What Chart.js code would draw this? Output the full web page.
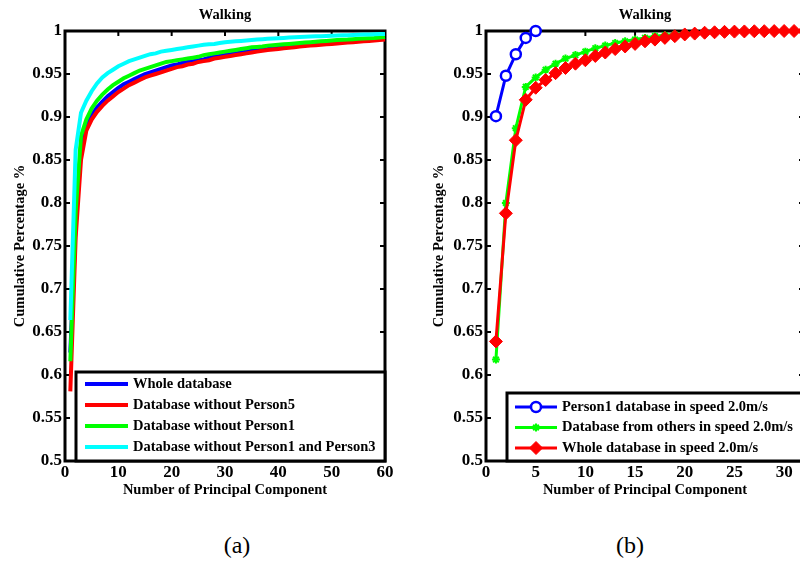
<!DOCTYPE html>
<html>
<head>
<meta charset="utf-8">
<script src="https://cdn.jsdelivr.net/npm/chart.js"></script>
<style>
  body { margin: 0; background: #fff; }
  #page { position: relative; width: 800px; height: 574px; overflow: hidden; }
  canvas { position: absolute; top: 0; }
  #left { left: 0; }
  #right { left: 400px; }
  .cap { position: absolute; top: 532px; width: 60px; text-align: center;
         font: 24px "Liberation Serif", "Times New Roman", serif; color: #000; }
</style>
</head>
<body>
<div id="page">
  <canvas id="left" width="400" height="510"></canvas>
  <canvas id="right" width="420" height="510"></canvas>
  <div class="cap" style="left:207px">(a)</div>
  <div class="cap" style="left:600px">(b)</div>
</div>
<script>
// ---- panel (a): cumulative variance for 1..60 principal components
const componentsA = [1, 2, 3, 4, 5, 6, 7, 8, 9, 10, 11, 12, 13, 14, 15, 16, 17, 18, 19, 20,
  21, 22, 23, 24, 25, 26, 27, 28, 29, 30, 31, 32, 33, 34, 35, 36, 37, 38, 39, 40,
  41, 42, 43, 44, 45, 46, 47, 48, 49, 50, 51, 52, 53, 54, 55, 56, 57, 58, 59, 60];

const wholeDb = [0.626, 0.775, 0.862, 0.889, 0.902, 0.911, 0.918, 0.924, 0.929, 0.934,
  0.938, 0.941, 0.944, 0.947, 0.950, 0.952, 0.954, 0.956, 0.958, 0.960,
  0.961, 0.963, 0.964, 0.965, 0.966, 0.967, 0.969, 0.970, 0.971, 0.972,
  0.973, 0.974, 0.975, 0.976, 0.977, 0.978, 0.9785, 0.979, 0.980, 0.981,
  0.9815, 0.982, 0.983, 0.9835, 0.984, 0.9845, 0.985, 0.9855, 0.986, 0.9865,
  0.987, 0.9875, 0.988, 0.9885, 0.989, 0.9893, 0.9896, 0.990, 0.9903, 0.9906];

const withoutP5 = [0.581, 0.760, 0.850, 0.884, 0.897, 0.906, 0.913, 0.919, 0.924, 0.929,
  0.933, 0.937, 0.940, 0.943, 0.946, 0.948, 0.950, 0.952, 0.954, 0.956,
  0.958, 0.959, 0.961, 0.962, 0.964, 0.965, 0.966, 0.968, 0.969, 0.970,
  0.971, 0.972, 0.973, 0.974, 0.975, 0.976, 0.977, 0.978, 0.9785, 0.979,
  0.980, 0.9805, 0.981, 0.982, 0.9825, 0.983, 0.9835, 0.984, 0.9845, 0.985,
  0.9855, 0.986, 0.9865, 0.987, 0.9875, 0.988, 0.9885, 0.989, 0.9895, 0.990];

const withoutP1 = [0.616, 0.790, 0.878, 0.897, 0.910, 0.919, 0.926, 0.932, 0.937, 0.941,
  0.945, 0.948, 0.951, 0.954, 0.956, 0.958, 0.960, 0.962, 0.964, 0.965,
  0.966, 0.967, 0.968, 0.969, 0.970, 0.972, 0.973, 0.974, 0.975, 0.976,
  0.977, 0.978, 0.979, 0.980, 0.981, 0.9815, 0.982, 0.983, 0.9835, 0.984,
  0.9845, 0.985, 0.9855, 0.986, 0.9865, 0.987, 0.9875, 0.988, 0.9885, 0.989,
  0.9894, 0.9898, 0.990, 0.9905, 0.991, 0.9913, 0.9917, 0.992, 0.9925, 0.993];

const withoutP1P3 = [0.664, 0.862, 0.905, 0.919, 0.930, 0.939, 0.946, 0.951, 0.955, 0.959,
  0.962, 0.965, 0.967, 0.969, 0.971, 0.973, 0.974, 0.976, 0.977, 0.978,
  0.979, 0.980, 0.981, 0.982, 0.983, 0.984, 0.9845, 0.985, 0.986, 0.987,
  0.9875, 0.988, 0.9885, 0.989, 0.9895, 0.990, 0.9905, 0.991, 0.9913, 0.9916,
  0.992, 0.9923, 0.9926, 0.993, 0.9932, 0.9935, 0.9938, 0.994, 0.9943, 0.9945,
  0.9948, 0.995, 0.9952, 0.9954, 0.9956, 0.9958, 0.996, 0.9962, 0.9964, 0.9966];

// ---- panel (b): speed 2.0 m/s
const componentsB = [1, 2, 3, 4, 5, 6, 7, 8, 9, 10, 11, 12, 13, 14, 15, 16,
  17, 18, 19, 20, 21, 22, 23, 24, 25, 26, 27, 28, 29, 30, 31, 32];

const person1Speed = [0.901, 0.948, 0.973, 0.992, 1.0];

const othersSpeed = [0.618, 0.800, 0.887, 0.935, 0.946, 0.955, 0.962, 0.968, 0.972, 0.976,
  0.980, 0.983, 0.986, 0.988, 0.990, 0.992, 0.994, 0.995, 0.996, 0.997,
  0.998, 0.9985, 0.999, 0.9993, 0.9995, 0.9997, 0.9998, 0.9999, 1.0, 1.0, 1.0, 1.0];

const wholeSpeed = [0.639, 0.788, 0.873, 0.920, 0.934, 0.943, 0.951, 0.957, 0.962, 0.966,
  0.971, 0.975, 0.979, 0.982, 0.985, 0.988, 0.990, 0.992, 0.994, 0.996,
  0.997, 0.998, 0.9985, 0.999, 0.9993, 0.9995, 0.9997, 0.9998, 0.9999, 1.0, 1.0, 1.0];

const FONT = '"Liberation Serif", "Times New Roman", serif';

function pts(xs, ys) {
  return ys.map((y, i) => ({ x: xs[i], y: y }));
}

// thick black frame with inward ticks on all four sides, like matlab
const matlabBox = {
  id: 'matlabBox',
  beforeDatasetsDraw(chart) {
    const { ctx, chartArea: a, scales } = chart;
    ctx.save();
    ctx.strokeStyle = '#000';
    ctx.lineWidth = 2;
    ctx.beginPath();
    scales.x.ticks.forEach((t) => {
      const px = scales.x.getPixelForValue(t.value);
      ctx.moveTo(px, a.bottom); ctx.lineTo(px, a.bottom - 5);
      ctx.moveTo(px, a.top); ctx.lineTo(px, a.top + 5);
    });
    scales.y.ticks.forEach((t) => {
      const py = scales.y.getPixelForValue(t.value);
      ctx.moveTo(a.left, py); ctx.lineTo(a.left + 5, py);
      ctx.moveTo(a.right, py); ctx.lineTo(a.right - 5, py);
    });
    ctx.stroke();
    ctx.lineWidth = 3;
    ctx.strokeRect(a.left, a.top, a.right - a.left, a.bottom - a.top);
    ctx.restore();
  },
};

// boxed legend sitting in the lower right corner of the axes
const boxLegend = {
  id: 'boxLegend',
  afterDraw(chart, args, o) {
    const { ctx, chartArea: a } = chart;
    const x0 = a.right - o.width;
    const y0 = a.bottom - o.height;
    ctx.save();
    ctx.fillStyle = '#fff';
    ctx.fillRect(x0, y0, o.width, o.height);
    ctx.strokeStyle = '#000';
    ctx.lineWidth = 3;
    ctx.strokeRect(x0, y0, o.width, o.height);
    ctx.font = 'bold 14.5px ' + FONT;
    ctx.textBaseline = 'middle';
    o.order.forEach((idx, row) => {
      const ds = chart.data.datasets[idx];
      const y = y0 + o.firstRow + row * o.rowGap;
      ctx.strokeStyle = ds.borderColor;
      ctx.lineWidth = ds.borderWidth;
      ctx.beginPath();
      ctx.moveTo(x0 + o.lineX, y);
      ctx.lineTo(x0 + o.lineX + o.lineLen, y);
      ctx.stroke();
      if (ds.pointRadius > 0) {
        ctx.fillStyle = ds.pointBackgroundColor;
        ctx.lineWidth = ds.pointBorderWidth;
        Chart.helpers.drawPoint(ctx, {
          pointStyle: ds.pointStyle, radius: ds.pointRadius,
          borderWidth: ds.pointBorderWidth, rotation: 0,
        }, x0 + o.lineX + o.lineLen / 2, y);
      }
      ctx.fillStyle = '#000';
      ctx.fillText(ds.label, x0 + o.textX, y);
    });
    ctx.restore();
  },
};

function axes(xMax, xStep, yWidth, yTitlePad) {
  const tickFont = { family: FONT, weight: 'bold', size: 17 };
  const titleFont = { family: FONT, weight: 'bold', size: 14.5 };
  return {
    x: {
      type: 'linear', min: 0, max: xMax,
      grid: { display: false, drawTicks: false }, border: { display: false },
      ticks: { stepSize: xStep, includeBounds: false, font: tickFont, color: '#000', padding: 1, maxRotation: 0 },
      title: { display: true, text: 'Number of Principal Component', font: titleFont, color: '#000', padding: { top: 0, bottom: 11 } },
      afterFit: (s) => { s.height = 49; },
    },
    y: {
      min: 0.5, max: 1,
      grid: { display: false, drawTicks: false }, border: { display: false },
      ticks: {
        stepSize: 0.05, font: tickFont, color: '#000', padding: 3,
        callback: (v) => String(parseFloat(v.toFixed(2))),
      },
      title: { display: true, text: 'Cumulative Percentage %', font: titleFont, color: '#000', padding: { top: yTitlePad, bottom: 0 } },
      afterFit: (s) => { s.width = yWidth; },
    },
  };
}

function titleOpts() {
  return {
    display: true, text: 'Walking', fullSize: false, color: '#000',
    font: { family: FONT, weight: 'bold', size: 14.5 },
    padding: { top: 7, bottom: 6.6 },
  };
}

new Chart(document.getElementById('left'), {
  type: 'line',
  data: {
    datasets: [
      { label: 'Whole database', data: pts(componentsA, wholeDb), borderColor: '#0000ff', order: 4 },
      { label: 'Database without Person5', data: pts(componentsA, withoutP5), borderColor: '#ff0000', order: 3 },
      { label: 'Database without Person1', data: pts(componentsA, withoutP1), borderColor: '#00ff00', order: 2 },
      { label: 'Database without Person1 and Person3', data: pts(componentsA, withoutP1P3), borderColor: '#00ffff', order: 1 },
    ].map((d) => Object.assign(d, { borderWidth: 4, pointRadius: 0, tension: 0, fill: false, clip: 4 })),
  },
  options: {
    responsive: false,
    animation: false,
    layout: { padding: { left: 0, right: 15, top: 0, bottom: 0 } },
    scales: axes(60, 10, 65, 12),
    plugins: {
      legend: { display: false },
      tooltip: { enabled: false },
      title: titleOpts(),
      boxLegend: { width: 309, height: 89, firstRow: 12, rowGap: 21, lineX: 9, lineLen: 43, textX: 57, order: [0, 1, 2, 3] },
    },
  },
  plugins: [matlabBox, boxLegend],
});

new Chart(document.getElementById('right'), {
  type: 'line',
  data: {
    datasets: [
      { label: 'Person1 database in speed 2.0m/s', data: pts(componentsB, person1Speed),
        borderColor: '#0000ff', pointStyle: 'circle', pointRadius: 5, pointBorderWidth: 2.5,
        pointBackgroundColor: '#ffffff', order: 3 },
      { label: 'Database from others in speed 2.0m/s', data: pts(componentsB, othersSpeed),
        borderColor: '#00ff00', pointStyle: 'star', pointRadius: 4, pointBorderWidth: 2,
        pointBackgroundColor: '#00ff00', order: 2 },
      { label: 'Whole database in speed 2.0m/s', data: pts(componentsB, wholeSpeed),
        borderColor: '#ff0000', pointStyle: 'rectRot', pointRadius: 6.5, pointBorderWidth: 1,
        pointBackgroundColor: '#ff0000', order: 1 },
    ].map((d) => Object.assign(d, { borderWidth: 3, tension: 0, fill: false, clip: false })),
  },
  options: {
    responsive: false,
    animation: false,
    layout: { padding: { left: 0, right: 16, top: 0, bottom: 0 } },
    scales: axes(32, 5, 86, 31),
    plugins: {
      legend: { display: false },
      tooltip: { enabled: false },
      title: titleOpts(),
      boxLegend: { width: 297, height: 68, firstRow: 14, rowGap: 20.5, lineX: 8, lineLen: 42, textX: 55, order: [0, 1, 2] },
    },
  },
  plugins: [matlabBox, boxLegend],
});
</script>
</body>
</html>
